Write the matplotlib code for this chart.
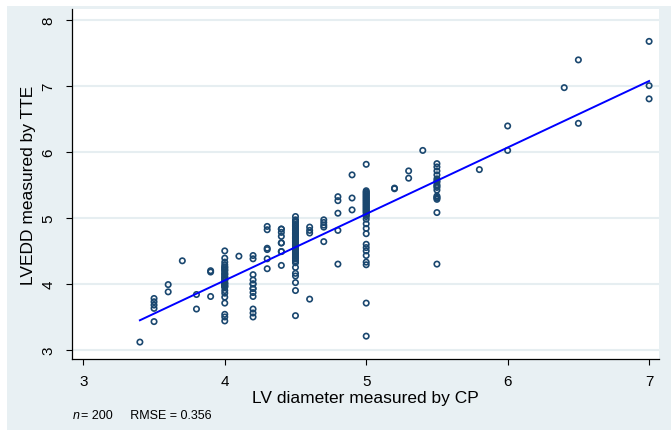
import numpy as np
import matplotlib
matplotlib.use("Agg")
import matplotlib.pyplot as plt
from matplotlib.patches import Rectangle

plt.rcParams['font.family'] = ['Liberation Sans', 'DejaVu Sans']

# LV diameter by CP (x) and the LVEDD by TTE values read for each x column
cp_vals = [3.4, 3.5, 3.6, 3.7, 3.8, 3.9, 4.0, 4.1, 4.2, 4.3, 4.4, 4.5, 4.6,
           4.7, 4.8, 4.9, 5.0, 5.2, 5.3, 5.4, 5.5, 5.8, 6.0, 6.4, 6.5, 7.0]
tte_vals = [
    [3.12],
    [3.78, 3.73, 3.68, 3.63, 3.43],
    [3.99, 3.88],
    [4.35],
    [3.84, 3.62],
    [4.20, 4.18, 3.81],
    [4.50, 4.39, 4.33, 4.29, 4.26, 4.23, 4.20, 4.17, 4.14, 4.11, 4.08, 4.05,
     4.02, 4.00, 3.97, 3.95, 3.90, 3.86, 3.80, 3.71, 3.54, 3.50, 3.44,
     4.25, 4.21, 4.15, 4.10, 4.06, 4.01, 3.98, 3.96],
    [4.42],
    [4.43, 4.38, 4.14, 4.06, 4.00, 3.93, 3.87, 3.81, 3.62, 3.56, 3.50,
     4.00, 3.93],
    [4.87, 4.82, 4.54, 4.52, 4.38, 4.23],
    [4.83, 4.78, 4.72, 4.62, 4.49, 4.28, 4.62, 4.49, 4.83],
    [5.02, 4.97, 4.93, 4.90, 4.87, 4.84, 4.81, 4.78, 4.75, 4.72, 4.69, 4.66,
     4.63, 4.60, 4.57, 4.54, 4.50, 4.46, 4.42, 4.38, 4.32, 4.25, 4.16, 4.12,
     4.02, 3.90, 3.52,
     4.95, 4.88, 4.82, 4.76, 4.70, 4.64, 4.58, 4.52, 4.48, 4.44, 4.40, 4.35],
    [4.86, 4.81, 4.77, 3.77],
    [4.97, 4.93, 4.89, 4.86, 4.64],
    [5.32, 5.26, 5.07, 4.81, 4.30],
    [5.65, 5.30, 5.12],
    [5.81, 5.41, 5.38, 5.35, 5.32, 5.29, 5.26, 5.23, 5.20, 5.17, 5.14, 5.11,
     5.08, 5.05, 5.02, 4.98, 4.91, 4.84, 4.76, 4.60, 4.55, 4.50, 4.43, 4.33,
     4.29, 3.71, 3.21,
     5.39, 5.36, 5.33, 5.30, 5.27, 5.24, 5.21, 5.18, 5.15, 5.12, 5.09, 5.04],
    [5.45, 5.44],
    [5.71, 5.60],
    [6.02],
    [5.82, 5.77, 5.71, 5.65, 5.59, 5.54, 5.50, 5.46, 5.42, 5.33, 5.30, 5.28,
     5.08, 4.30, 5.56, 5.48, 5.31],
    [5.73],
    [6.39, 6.02],
    [6.97],
    [7.39, 6.43],
    [7.67, 7.00, 6.80],
]

# fitted line
fit_x = [3.4, 7.0]
fit_y = [3.45, 7.07]

x = np.concatenate([[c] * len(v) for c, v in zip(cp_vals, tte_vals)])
y = np.concatenate(tte_vals)

W, H = 671, 431
fig = plt.figure(figsize=(W / 100, H / 100), dpi=100, facecolor='white')
fig.patches.append(Rectangle((7 / W, 0), 1 - 7 / W, 1 - 7 / H, transform=fig.transFigure,
                             facecolor='#e8f0f3', edgecolor='none', zorder=-10))

ax = fig.add_axes([72 / W, 1 - 360 / H, (659 - 72) / W, 350 / H])
ax.set_facecolor('white')
ax.set_xlim(2.92, 7.07)
ax.set_ylim(2.864, 8.16)

ax.set_yticks([3, 4, 5, 6, 7, 8])
ax.set_xticks([3, 4, 5, 6, 7])
ax.grid(axis='y', color='#e6eef1', lw=1.5)
ax.set_axisbelow(True)

ax.scatter(x, y, s=15, facecolors='none', edgecolors='#1a476f', linewidths=1.2, zorder=3)
ax.plot(fit_x, fit_y, color='#0000ff', lw=1.4, zorder=4)

for s in ['top', 'right']:
    ax.spines[s].set_visible(False)
for s in ['left', 'bottom']:
    ax.spines[s].set_linewidth(0.9)

ax.tick_params(axis='both', direction='out', length=4, width=0.8, labelsize=11)
ax.tick_params(axis='y', pad=8)
ax.tick_params(axis='x', pad=7)
plt.setp(ax.get_yticklabels(), rotation=90, va='center')

ax.set_xlabel('LV diameter measured by CP', fontsize=12.5, labelpad=1)
ax.set_ylabel('LVEDD measured by TTE', fontsize=12.5, labelpad=4)

fig.text(73 / W, 1 - 416 / H, 'n', fontsize=9, style='italic', va='center')
fig.text(81 / W, 1 - 416 / H, '= 200     RMSE = 0.356', fontsize=9, va='center')

fig.savefig('out.png', dpi=100)
